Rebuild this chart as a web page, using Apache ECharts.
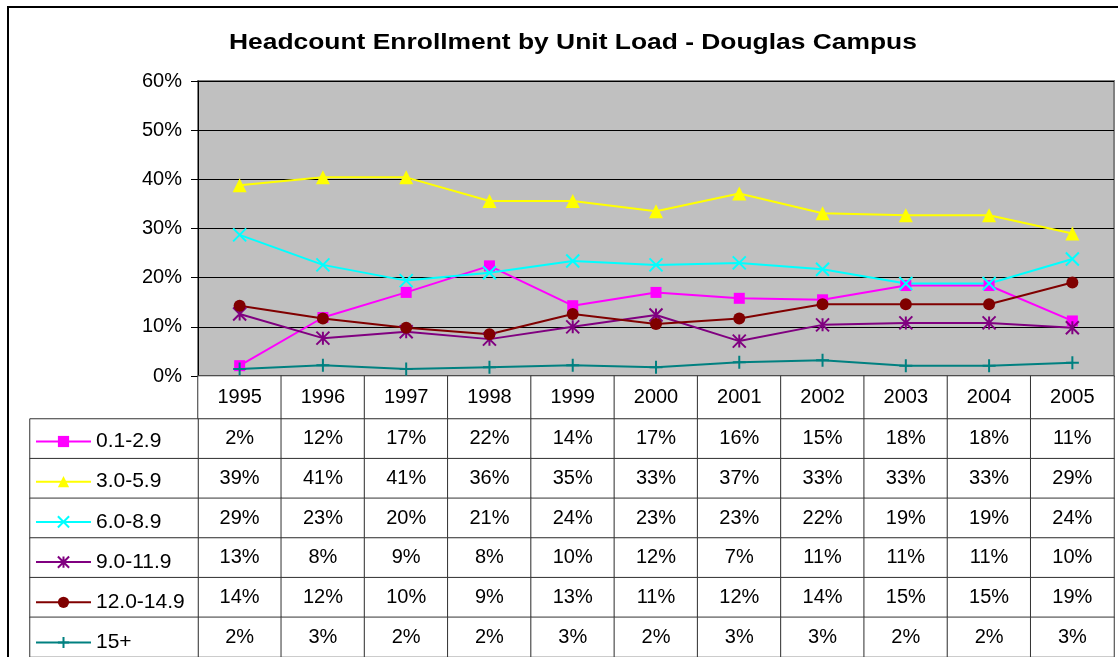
<html>
<head>
<meta charset="utf-8">
<script src="https://cdn.jsdelivr.net/npm/echarts@6/dist/echarts.min.js"></script>
</head>
<body style="margin:0;background:#fff;">
<div id="main" style="width:1118px;height:657px;"></div>
<script>
// categories / series
var years = ['1995', '1996', '1997', '1998', '1999', '2000', '2001', '2002', '2003', '2004', '2005'];
var loadNames = ['0.1-2.9', '3.0-5.9', '6.0-8.9', '9.0-11.9', '12.0-14.9', '15+'];
var chartTitle = 'Headcount Enrollment by Unit Load - Douglas Campus';

// plotted values (percent)
var load01 = [2.1, 11.9, 17.0, 22.4, 14.3, 17.0, 15.8, 15.5, 18.4, 18.4, 11.2];
var load30 = [38.8, 40.4, 40.4, 35.6, 35.6, 33.5, 37.1, 33.1, 32.7, 32.7, 29.0];
var load60 = [28.7, 22.6, 19.4, 21.0, 23.4, 22.6, 23.0, 21.7, 18.8, 18.8, 23.8];
var load90 = [12.6, 7.7, 9.0, 7.5, 10.0, 12.4, 7.1, 10.4, 10.8, 10.8, 9.8];
var load120 = [14.3, 11.7, 9.8, 8.5, 12.6, 10.6, 11.7, 14.6, 14.6, 14.6, 19.0];
var load15 = [1.4, 2.2, 1.4, 1.8, 2.2, 1.8, 2.8, 3.2, 2.1, 2.1, 2.7];

// values printed in the data table
var table01 = [2, 12, 17, 22, 14, 17, 16, 15, 18, 18, 11];
var table30 = [39, 41, 41, 36, 35, 33, 37, 33, 33, 33, 29];
var table60 = [29, 23, 20, 21, 24, 23, 23, 22, 19, 19, 24];
var table90 = [13, 8, 9, 8, 10, 12, 7, 11, 11, 11, 10];
var table120 = [14, 12, 10, 9, 13, 11, 12, 14, 15, 15, 19];
var table15 = [2, 3, 2, 2, 3, 2, 3, 3, 2, 2, 3];

var yTicks = [0, 10, 20, 30, 40, 50, 60];

var lineData = [load01, load30, load60, load90, load120, load15];
var tableData = [table01, table30, table60, table90, table120, table15];
var colors = ['#ff00ff', '#ffff00', '#00ffff', '#800080', '#800000', '#008080'];
var symbols = [
	'rect',
	'triangle',
	'path://M0,0L10,10M10,0L0,10',
	'path://M5,0L5,10M0,0L10,10M10,0L0,10',
	'circle',
	'path://M5,0L5,10M0,5L10,5'
];
var symbolSizes = [11, 14, 13, 13, 12, 13];
var stroked = [false, false, true, true, false, true];

var FONT = 'Liberation Sans, Arial, sans-serif';

var myChart = echarts.init(document.getElementById('main'), null, { renderer: 'canvas' });

var series = [];
for (var i = 0; i < loadNames.length; i++) {
	series.push({
		name: loadNames[i],
		type: 'line',
		xAxisIndex: 0,
		yAxisIndex: 0,
		data: lineData[i],
		symbol: symbols[i],
		symbolSize: symbolSizes[i],
		showAllSymbol: true,
		animation: false,
		lineStyle: { color: colors[i], width: 2 },
		itemStyle: stroked[i]
			? { color: 'rgba(0,0,0,0)', borderColor: colors[i], borderWidth: 2 }
			: { color: colors[i], borderWidth: 0 }
	});
}

// header row (years)
var headerCells = years.map(function (y, idx) { return [idx, 0, y]; });
series.push({
	type: 'heatmap',
	xAxisIndex: 1,
	yAxisIndex: 1,
	data: headerCells,
	animation: false,
	itemStyle: { color: '#fff', borderColor: '#333', borderWidth: 1 },
	label: {
		show: true, fontFamily: FONT, fontSize: 20, color: '#000',
		formatter: function (p) { return p.data[2]; }
	},
	emphasis: { disabled: true }
});

// value cells
var cells = [];
for (var r = 0; r < tableData.length; r++) {
	for (var c = 0; c < years.length; c++) {
		cells.push([c, r, tableData[r][c]]);
	}
}
series.push({
	type: 'heatmap',
	xAxisIndex: 2,
	yAxisIndex: 2,
	data: cells,
	animation: false,
	itemStyle: { color: '#fff', borderColor: '#333', borderWidth: 1 },
	label: {
		show: true, fontFamily: FONT, fontSize: 20, color: '#000',
		formatter: function (p) { return p.data[2] + '%'; }
	},
	emphasis: { disabled: true }
});

// legend column cells
var legendCells = loadNames.map(function (n, idx) { return [0, idx, 0]; });
series.push({
	type: 'heatmap',
	xAxisIndex: 3,
	yAxisIndex: 3,
	data: legendCells,
	animation: false,
	itemStyle: { color: '#fff', borderColor: '#333', borderWidth: 1 },
	emphasis: { disabled: true }
});

function hiddenCat(gridIndex, data, inverse) {
	return {
		type: 'category', gridIndex: gridIndex, data: data, inverse: !!inverse,
		show: false, boundaryGap: true
	};
}

var option = {
	backgroundColor: '#fff',
	legend: {
		data: loadNames,
		orient: 'vertical',
		left: 35,
		top: 431,
		padding: 0,
		itemWidth: 55,
		itemHeight: 14,
		itemGap: 19.2,
		textStyle: { fontFamily: FONT, fontSize: 21, color: '#000', lineHeight: 21 },
		selectedMode: false
	},
	grid: [
		{ left: 198, top: 81, width: 916, height: 295, show: true, backgroundColor: '#c0c0c0', borderColor: '#808080', borderWidth: 2 },
		{ left: 198, top: 376, width: 916, height: 43 },
		{ left: 198, top: 419, width: 916, height: 242 },
		{ left: 30, top: 419, width: 168, height: 242 }
	],
	xAxis: [
		{
			type: 'category', gridIndex: 0, data: years, boundaryGap: true,
			axisLine: { show: false }, axisTick: { show: false }, axisLabel: { show: false }
		},
		hiddenCat(1, years),
		hiddenCat(2, years),
		hiddenCat(3, ['legend'])
	],
	yAxis: [
		{
			type: 'value', gridIndex: 0, min: yTicks[0], max: yTicks[yTicks.length - 1], interval: 10,
			axisLine: { show: true, lineStyle: { color: '#000', width: 1 } },
			axisTick: { show: true, inside: false, length: 7, lineStyle: { color: '#000' } },
			axisLabel: { formatter: '{value}%', fontFamily: FONT, fontSize: 20, color: '#000', margin: 16 },
			splitLine: { show: true, lineStyle: { color: '#000', width: 1 } }
		},
		hiddenCat(1, ['year']),
		hiddenCat(2, loadNames, true),
		hiddenCat(3, loadNames, true)
	],
	graphic: [
		{
			type: 'text',
			x: 229,
			y: 32,
			scaleX: 1.2,
			style: { text: chartTitle, font: 'bold 22px ' + FONT, fill: '#000' },
			silent: true
		},
		{
			type: 'rect',
			shape: { x: 8, y: 7, width: 1130, height: 680 },
			style: { fill: 'none', stroke: '#000', lineWidth: 2 },
			silent: true,
			z: 100
		}
	],
	series: series
};

myChart.setOption(option);
</script>
</body>
</html>
